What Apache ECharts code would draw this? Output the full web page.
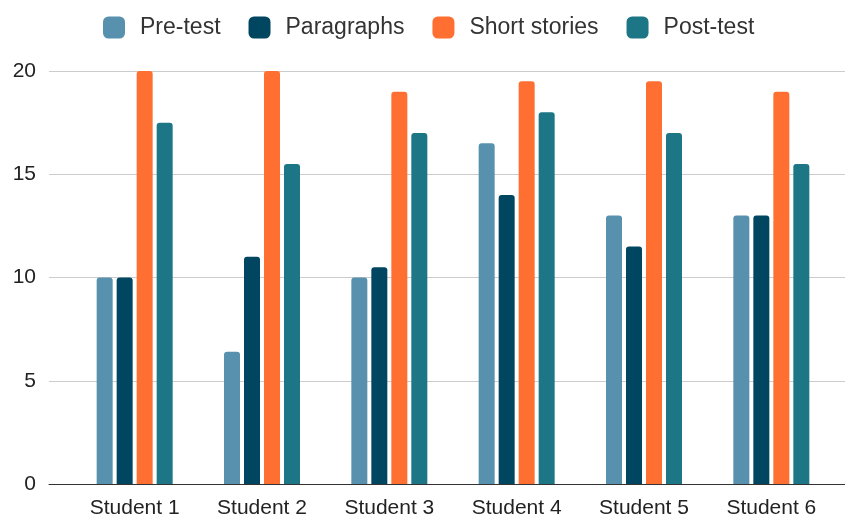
<!DOCTYPE html>
<html>
<head>
<meta charset="utf-8">
<script src="https://cdn.jsdelivr.net/npm/echarts@6/dist/echarts.min.js"></script>
<style>
  html, body { margin: 0; padding: 0; background: #fff; }
  #container1 { width: 845px; height: 519px; }
</style>
</head>
<body>
<div id="container1"></div>
<script>
var students = ['Student 1', 'Student 2', 'Student 3', 'Student 4', 'Student 5', 'Student 6'];
var preTest = [10, 6.4, 10, 16.5, 13, 13];
var paragraphs = [10, 11, 10.5, 14, 11.5, 13];
var shortStories = [20, 20, 19, 19.5, 19.5, 19];
var postTest = [17.5, 15.5, 17, 18, 17, 15.5];
var seriesNames = ['Pre-test', 'Paragraphs', 'Short stories', 'Post-test'];

var myChart = echarts.init(document.getElementById('container1'));
var font = 'Liberation Sans, Arial, sans-serif';

function bar(name, data) {
    return {
        name: name,
        type: 'bar',
        xAxisIndex: 1,
        yAxisIndex: 1,
        barWidth: 16,
        barGap: '25%',
        itemStyle: { borderRadius: [3, 3, 0, 0] },
        data: data
    };
}

var option = {
    color: ['#5891ad', '#004661', '#ff6f31', '#1c7685'],
    textStyle: { fontFamily: font },
    legend: {
        data: seriesNames,
        top: 11,
        left: 98,
        icon: 'roundRect',
        itemWidth: 22,
        itemHeight: 22,
        itemGap: 28,
        textStyle: { fontSize: 23, color: '#333', padding: [0, 0, 0, 10] }
    },
    grid: [
        // background grid: full width gridlines and y labels
        { left: 49, right: 0, top: 71, bottom: 35 },
        // bars
        { left: 71, right: 10, top: 71, bottom: 35 }
    ],
    xAxis: [
        {
            type: 'category', gridIndex: 0, data: [''],
            axisLine: { lineStyle: { color: '#333', width: 1 } },
            axisTick: { show: false }, axisLabel: { show: false }
        },
        {
            type: 'category', gridIndex: 1, data: students,
            axisLine: { show: false }, axisTick: { show: false },
            axisLabel: { fontSize: 21, color: '#222', margin: 14 }
        }
    ],
    yAxis: [
        {
            type: 'value', gridIndex: 0, min: 0, max: 20, interval: 5,
            axisLine: { show: false }, axisTick: { show: false },
            axisLabel: { fontSize: 21, color: '#222', margin: 13 },
            splitLine: { lineStyle: { color: '#cccccc' } }
        },
        {
            type: 'value', gridIndex: 1, min: 0, max: 20, interval: 5,
            show: false, splitLine: { show: false }
        }
    ],
    series: [
        bar(seriesNames[0], preTest),
        bar(seriesNames[1], paragraphs),
        bar(seriesNames[2], shortStories),
        bar(seriesNames[3], postTest)
    ]
};
myChart.setOption(option, true);
</script>
</body>
</html>
